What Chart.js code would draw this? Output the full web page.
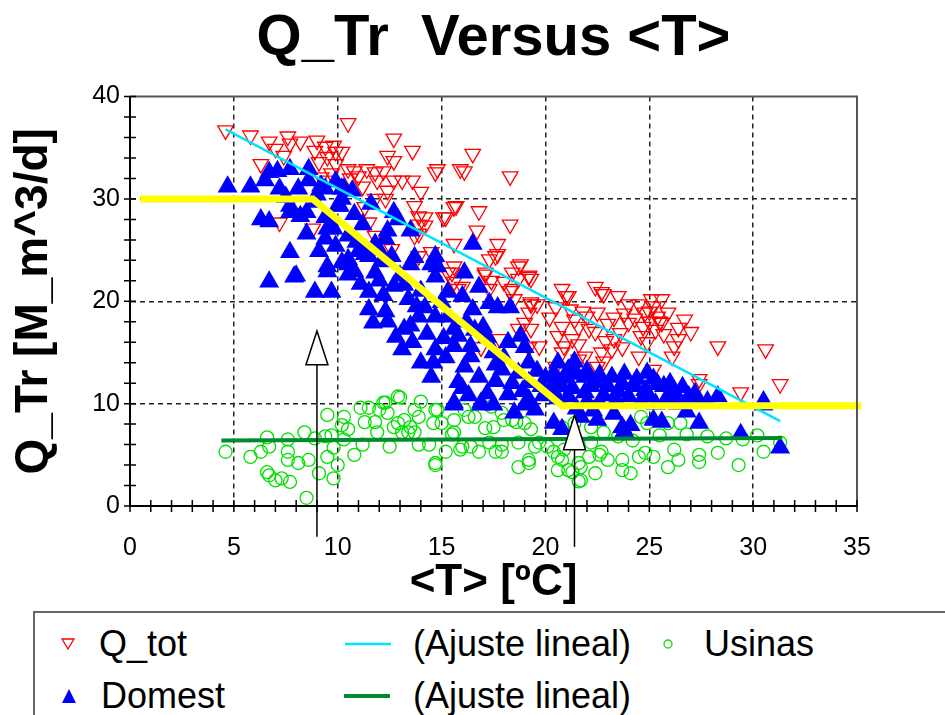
<!DOCTYPE html>
<html>
<head>
<meta charset="utf-8">
<script src="https://cdn.jsdelivr.net/npm/chart.js@4.4.1/dist/chart.umd.min.js"></script>
<style>
  body { margin: 0; background: #fff; font-family: Arial, "Liberation Sans", sans-serif; }
  #wrap { position: relative; width: 945px; height: 715px; overflow: hidden; }
  #chart { position: absolute; left: 0; top: 0; }
  #legend { position: absolute; left: 33px; top: 611px; width: 960px; height: 130px;
            border: 2px solid #666; background: #fff; box-sizing: border-box; }
  .lg { position: absolute; font-size: 36px; line-height: 40px; height: 40px; color: #000; white-space: nowrap; }
  .mk { position: absolute; }
</style>
</head>
<body>
<div id="wrap">
  <canvas id="chart" width="945" height="620"></canvas>
  <div id="legend"></div>
</div>
<script>
// Q_tot (triángulos rojos)
const qTot = [
  [4.6,36.7],[5.8,36.2],[6.7,35.6],[7.0,34.9],[7.6,36.1],[7.7,35.4],[8.2,35.6],[9.0,35.7],[8.9,34.7],[9.4,35.1],
  [9.8,35.2],[9.9,34.6],[10.2,34.6],[10.5,37.4],[9.5,34.1],[9.1,33.6],[9.9,33.4],[9.7,32.5],[9.2,32.1],[9.5,31.8],
  [7.4,34.2],[6.3,33.4],[10.5,32.9],[10.8,32.7],[11.4,32.9],[11.8,32.6],[12.2,32.7],[12.4,34.2],[12.7,33.7],[12.7,35.9],
  [13.6,34.7],[10.6,32.0],[11.0,32.2],[11.2,31.2],[11.9,31.8],[12.4,30.8],[12.7,31.8],[13.1,31.8],[13.6,31.8],[14.0,30.7],
  [14.7,32.6],[14.8,32.9],[15.9,32.9],[11.3,29.2],[11.8,30.0],[12.3,30.0],[13.7,29.3],[14.2,28.2],[15.1,28.2],[15.6,29.2],
  [11.5,27.7],[11.8,26.4],[13.9,27.5],[13.9,26.6],[8.8,27.1],[9.6,27.8],[12.6,25.1],[13.9,24.4],[14.5,24.8],[15.6,23.4],
  [7.2,27.7],[16.5,34.4],[16.1,32.7],[18.3,32.2],[15.7,29.3],[16.8,28.8],[15.2,28.2],[16.7,26.9],[18.3,27.5],[17.7,25.6],
  [15.6,25.6],[17.6,24.4],[18.8,23.6],[19.2,22.4],[15.5,22.8],[15.8,21.2],[17.1,22.6],[17.4,22.0],[18.0,21.9],[18.4,21.2],
  [19.3,19.9],[20.8,21.2],[21.1,20.5],[22.4,21.4],[22.7,20.9],[13.9,28.3],[14.2,27.4],[13.7,26.4],[18.7,23.4],[19.2,22.5],
  [15.6,21.9],[16.0,21.4],[17.3,21.2],[18.3,21.0],[18.5,20.2],[19.3,19.7],[20.5,19.4],[21.0,20.5],[22.8,20.7],[23.5,20.5],
  [24.0,19.7],[24.5,19.7],[25.1,20.2],[25.6,20.2],[25.2,19.5],[25.4,18.5],[25.0,18.0],[25.6,17.9],[25.9,18.9],[26.4,17.4],
  [26.7,18.2],[27.0,17.0],[26.4,16.3],[26.2,15.6],[26.1,14.6],[28.3,15.6],[30.6,15.3],[31.3,11.9],[29.4,11.1],[27.4,12.4],
  [27.4,11.9],[25.2,13.3],[24.5,14.6],[22.5,18.9],[23.3,18.4],[24.0,17.9],[24.6,16.6],[23.3,16.3],[23.7,15.5],[23.2,15.3],
  [22.7,15.0],[21.9,14.6],[22.5,13.6],[22.8,14.1],[21.4,18.2],[21.6,17.5],[22.1,17.3],[22.4,17.0],[20.8,17.5],[20.6,16.6],
  [21.3,16.3],[21.6,15.8],[20.9,15.6],[20.8,15.0],[21.6,14.3],[20.5,13.6],[21.4,13.6],[19.0,17.9],[19.3,17.3],[19.7,15.6],
  [19.2,15.5],[18.7,17.3],[17.8,16.3],[16.9,15.5],[19.2,18.9],[19.6,19.7],[17.3,24.1],[17.7,24.6],[17.1,22.8],[18.4,22.8],
  [18.7,22.2],[19.3,22.2],[15.3,22.8],[21.8,19.0],[22.0,18.5],[23.0,17.8],[23.8,18.8],[24.3,18.3],[24.8,18.9],[25.3,17.2],
  [25.7,16.8],[24.9,16.0],[23.6,16.9],[22.9,16.1],[21.2,19.2],[20.2,18.4],[25.0,19.0],[25.5,18.0],[24.7,17.5]
];

// Domest (triángulos azules)
const domest = [
  [4.7,31.2],[5.8,31.2],[6.5,31.8],[6.7,32.6],[7.1,32.7],[7.7,32.9],[8.6,32.9],[7.2,31.0],[7.7,29.3],[8.1,31.0],
  [8.9,29.7],[9.4,31.0],[9.9,31.7],[6.3,28.0],[6.7,27.8],[7.7,28.7],[8.5,28.7],[9.4,28.2],[9.5,27.1],[8.5,26.6],
  [7.7,24.8],[6.7,21.9],[7.9,22.4],[8.9,20.9],[9.7,20.9],[9.5,22.9],[10.2,23.8],[10.5,24.1],[9.9,25.4],[10.5,26.4],
  [10.2,31.0],[10.1,29.3],[8.0,22.5],[10.5,23.6],[10.5,22.6],[9.1,24.9],[11.1,21.7],[11.5,20.9],[11.8,22.8],[11.3,24.6],
  [12.1,23.9],[11.5,19.2],[11.7,17.9],[12.3,19.0],[12.4,18.0],[12.7,21.5],[13.4,20.2],[13.2,17.3],[13.5,17.6],[13.1,15.3],
  [14.0,14.0],[14.5,12.6],[14.7,15.3],[14.7,18.5],[13.9,18.5],[15.0,19.9],[15.6,15.6],[15.8,12.1],[15.6,10.1],[13.5,23.6],
  [14.5,23.6],[14.7,22.4],[15.6,17.3],[15.3,20.9],[9.4,26.1],[9.8,27.1],[9.5,23.4],[11.0,24.9],[11.5,24.4],[12.3,26.1],
  [12.4,26.9],[12.7,28.7],[12.9,28.0],[13.5,26.9],[13.7,24.3],[14.7,24.4],[14.8,23.4],[9.2,31.3],[10.3,31.0],[10.7,30.8],
  [10.2,30.0],[10.0,29.3],[16.5,25.6],[16.1,22.8],[16.8,21.4],[17.7,19.4],[18.3,19.4],[18.8,16.6],[18.2,16.0],[16.5,19.2],
  [15.8,16.6],[16.4,15.6],[16.8,12.6],[16.1,13.6],[17.9,13.3],[18.7,13.0],[19.2,14.0],[19.2,12.1],[19.8,11.7],[16.9,10.1],
  [18.5,9.1],[20.6,14.0],[21.4,14.1],[21.1,13.3],[20.4,13.0],[21.9,12.6],[22.5,12.1],[23.0,11.7],[23.7,11.9],[24.3,11.7],
  [25.2,12.4],[25.7,11.7],[26.2,11.2],[26.9,10.7],[28.3,10.7],[30.5,10.2],[20.8,11.7],[21.9,11.1],[24.0,10.7],[25.0,10.7],
  [15.6,9.9],[16.9,9.9],[19.5,9.4],[20.4,8.1],[21.7,8.7],[22.5,8.4],[23.7,7.7],[24.1,7.9],[25.2,8.4],[25.6,8.2],
  [27.4,8.1],[29.4,7.0],[31.3,5.7],[30.5,9.9],[21.1,10.7],[20.2,11.2],[18.2,10.9],[19.2,10.4],[20.8,7.5],[23.8,7.3],
  [13.0,22.5],[14.0,21.0],[13.8,19.5],[12.8,16.5],[14.3,16.8],[15.2,14.5],[16.2,18.0],[17.0,17.5],[17.5,15.0],[18.0,14.5],
  [16.0,11.5],[17.2,11.0],[22.0,10.2],[22.8,10.8],[23.4,10.3],[24.6,10.2],[25.8,10.4],[26.4,10.0],[27.8,10.2],[21.5,9.5],
  [22.3,9.3],[23.3,9.0],[26.8,9.2],[20.0,12.5],[19.0,15.5],[17.3,19.8],[12.0,25.0],[11.2,27.5],[10.8,28.5],[11.6,29.5],
  [20.5,12.0],[21.0,12.5],[21.5,12.9],[22.0,13.2],[22.6,12.8],[23.2,12.6],[23.8,12.9],[24.4,12.4],[24.9,13.0],[25.4,11.9],
  [26.0,12.0],[26.6,11.6],[27.2,11.0],[21.3,11.5],[22.2,11.7],[23.5,11.2],[24.8,11.3],[26.1,10.8],[27.3,10.4],[20.6,10.5],
  [22.6,10.1],[25.3,10.0],[15.3,18.5],[16.0,20.5],[16.6,17.2],[17.2,16.5],[17.6,13.8],[18.4,12.0],[19.6,13.2],[19.9,10.8],
  [17.6,12.2],[16.4,14.6],[15.1,16.4],[18.9,11.2],[17.5,9.9],[16.3,10.8],[19.0,9.9],[10.9,25.8],[11.8,25.6],[12.6,24.4],
  [13.2,21.6],[12.2,20.6],[14.2,19.4],[13.6,16.0],[14.6,14.0],[12.0,22.0],[10.8,22.9],[8.2,28.3],[9.0,30.4],[8.6,31.8],
  [7.5,30.2]
];

// Usinas (círculos verdes)
const usinas = [
  [4.6,5.3],[5.8,4.8],[6.3,5.3],[6.7,5.8],[6.6,6.7],[7.6,6.5],[7.6,5.3],[7.6,4.5],[8.1,4.2],[8.6,4.5],
  [8.4,7.2],[6.6,3.3],[6.7,3.0],[7.0,2.5],[7.3,2.7],[7.7,2.35],[8.5,0.8],[9.1,3.2],[9.4,6.8],[9.5,8.9],
  [9.5,4.8],[9.8,5.7],[9.8,2.7],[10.0,4.0],[10.2,7.9],[10.3,8.7],[10.5,7.5],[10.8,5.0],[10.3,6.5],[11.1,9.6],
  [11.3,8.2],[11.8,8.2],[11.9,7.2],[11.2,6.0],[12.0,9.4],[12.2,10.1],[12.4,9.1],[13.0,10.6],[12.9,8.1],[13.1,7.2],
  [12.5,5.8],[13.5,7.7],[13.7,9.4],[14.0,10.2],[13.7,7.2],[13.9,6.0],[14.6,8.1],[14.8,9.4],[14.4,6.0],[14.7,4.0],
  [15.2,5.3],[15.6,7.2],[15.9,5.5],[16.3,8.7],[16.4,5.8],[16.8,5.3],[17.1,7.6],[17.5,7.7],[17.6,5.3],[11.5,9.6],
  [12.3,10.1],[12.9,10.7],[14.7,9.4],[16.1,9.4],[17.4,9.7],[17.9,9.1],[18.4,8.4],[19.0,8.1],[15.5,7.0],[16.0,5.8],
  [17.9,5.3],[18.7,6.2],[19.5,5.8],[20.1,5.8],[19.2,4.5],[18.7,3.8],[14.7,4.2],[20.4,5.3],[20.8,4.5],[21.1,3.5],
  [21.6,4.2],[22.1,4.8],[22.4,3.2],[22.7,5.3],[20.8,7.7],[21.4,8.1],[22.2,7.7],[22.8,7.2],[22.2,6.2],[12.7,7.7],
  [13.4,7.2],[13.2,8.4],[13.9,8.7],[15.0,8.1],[15.6,8.4],[16.6,8.7],[18.0,8.4],[18.6,8.2],[19.3,7.5],[17.3,6.2],
  [17.9,6.0],[19.7,6.2],[20.6,4.8],[20.9,5.5],[21.7,3.8],[21.7,2.5],[22.6,5.0],[23.0,4.5],[23.7,4.5],[23.7,3.5],
  [24.1,3.2],[24.5,4.8],[24.8,5.2],[25.2,4.8],[24.6,8.7],[24.9,8.1],[25.9,8.1],[26.5,8.1],[26.2,5.5],[26.4,4.5],
  [25.9,3.8],[27.4,5.0],[27.4,4.3],[28.3,5.2],[29.3,4.0],[30.5,5.3],[31.3,6.2],[19.2,4.2],[20.6,3.5],[21.3,3.3],
  [21.6,2.4],[23.5,6.8],[24.2,6.4],[25.5,6.9],[26.8,7.0],[27.8,6.8],[28.7,6.6],[29.5,6.5],[30.2,6.9],[8.9,6.6],[9.7,6.9]
];

// ajustes y modelo
const fitTot = [[4.6,36.8],[31.3,8.3]];
const fitUsinas = [[4.4,6.4],[31.4,6.65]];
const modelo = [[0.5,30.0],[8.8,30.0],[20.8,9.8],[35.2,9.8]];

// flechas: x, punta, base de la cabeza, pie
const arrowX = [9.0, 21.4];
const arrowTip = [17.1, 8.9];
const arrowBase = [13.8, 5.5];
const arrowFoot = [-3.0, -4.0];

const xTicks = [0, 5, 10, 15, 20, 25, 30, 35];
const yTicks = [0, 10, 20, 30, 40];

const FONT = 'Arial, "Liberation Sans", sans-serif';
const toXY = arr => arr.map(p => ({ x: p[0], y: p[1] }));

// marcas secundarias, marco y flechas
const extras = {
  id: 'extras',
  afterDatasetsDraw(chart) {
    const { ctx, scales: { x, y } } = chart;
    ctx.save();
    ctx.lineWidth = 1.5;
    ctx.strokeStyle = '#000';
    for (let i = 0; i < arrowX.length; i++) {
      const px = x.getPixelForValue(arrowX[i]);
      const tip = y.getPixelForValue(arrowTip[i]);
      const base = y.getPixelForValue(arrowBase[i]);
      const foot = y.getPixelForValue(arrowFoot[i]);
      ctx.beginPath();
      ctx.moveTo(px, foot);
      ctx.lineTo(px, base);
      ctx.stroke();
      ctx.beginPath();
      ctx.moveTo(px, tip);
      ctx.lineTo(px - 11, base);
      ctx.lineTo(px + 11, base);
      ctx.closePath();
      ctx.fillStyle = '#fff';
      ctx.fill();
      ctx.stroke();
    }
    ctx.restore();
  },
  afterDraw(chart) {
    const { ctx, chartArea: a, scales: { x, y } } = chart;
    ctx.save();
    ctx.strokeStyle = '#555';
    ctx.lineWidth = 2;
    ctx.beginPath();
    ctx.moveTo(a.left, a.top);
    ctx.lineTo(a.right, a.top);
    ctx.lineTo(a.right, a.bottom);
    ctx.stroke();
    ctx.strokeStyle = '#000';
    ctx.lineWidth = 1.5;
    ctx.beginPath();
    for (let v = 0; v <= 35; v += 1) {
      const px = x.getPixelForValue(v);
      ctx.moveTo(px, a.bottom - 6);
      ctx.lineTo(px, a.bottom + 6);
    }
    for (let v = 0; v <= 40; v += 2) {
      const py = y.getPixelForValue(v);
      ctx.moveTo(a.left - 6, py);
      ctx.lineTo(a.left + 6, py);
    }
    ctx.stroke();
    ctx.restore();
  }
};

const gridColor = (lo, hi) => c => (c.tick && (c.tick.value === lo || c.tick.value === hi)) ? 'rgba(0,0,0,0)' : '#222';

new Chart(document.getElementById('chart'), {
  type: 'scatter',
  data: {
    datasets: [
      { label: 'modelo', data: toXY(modelo), showLine: true, borderColor: '#ffff00', borderWidth: 7,
        pointRadius: 0, order: 0, clip: false },
      { label: '(Ajuste lineal)', data: toXY(fitUsinas), showLine: true, borderColor: '#008a2e', borderWidth: 4,
        pointRadius: 0, order: 1 },
      { label: '(Ajuste lineal)', data: toXY(fitTot), showLine: true, borderColor: '#00e5ff', borderWidth: 2.5,
        pointRadius: 0, order: 2 },
      { label: 'Domest', data: toXY(domest), pointStyle: 'triangle', pointRadius: 11.5,
        backgroundColor: '#0000ff', borderColor: '#0000ff', borderWidth: 0, order: 3 },
      { label: 'Usinas', data: toXY(usinas), pointStyle: 'circle', pointRadius: 6.5,
        backgroundColor: 'rgba(0,0,0,0)', borderColor: '#00e000', borderWidth: 1.3, order: 4 },
      { label: 'Q_tot', data: toXY(qTot), pointStyle: 'triangle', pointRotation: 180, pointRadius: 9,
        backgroundColor: 'rgba(0,0,0,0)', borderColor: '#ff0000', borderWidth: 1.3, order: 5 }
    ]
  },
  options: {
    responsive: false,
    devicePixelRatio: 1,
    animation: false,
    layout: { padding: { left: 0, right: 88, top: 0, bottom: 0 } },
    plugins: {
      legend: { display: false },
      tooltip: { enabled: false },
      title: {
        display: true, fullSize: false, text: 'Q_Tr  Versus <T>', color: '#000',
        font: { family: FONT, size: 58, weight: 'bold', lineHeight: 1.2 },
        padding: { top: 4, bottom: 23 }
      }
    },
    scales: {
      x: {
        type: 'linear', min: 0, max: 35,
        afterBuildTicks: s => { s.ticks = xTicks.map(v => ({ value: v })); },
        afterFit: s => { s.height = 114; },
        ticks: { color: '#000', font: { family: FONT, size: 25 }, padding: 27 },
        grid: { color: gridColor(0, 35), lineWidth: 1.5, drawTicks: false },
        border: { display: true, color: '#000', width: 2, dash: [5, 4] },
        title: { display: true, text: '<T> [ºC]', color: '#000',
                 font: { family: FONT, size: 44, weight: 'bold', lineHeight: 1.2 },
                 padding: { top: 0, bottom: 10.6 } }
      },
      y: {
        type: 'linear', min: 0, max: 40,
        afterBuildTicks: s => { s.ticks = yTicks.map(v => ({ value: v })); },
        afterFit: s => { s.width = 130; },
        ticks: { color: '#000', font: { family: FONT, size: 25 }, padding: 10 },
        grid: { color: gridColor(0, 40), lineWidth: 1.5, drawTicks: false },
        border: { display: true, color: '#000', width: 2, dash: [5, 4] },
        title: { display: true, text: 'Q_Tr [M_m^3/d]', color: '#000',
                 font: { family: FONT, size: 46, weight: 'bold', lineHeight: 1.2 },
                 padding: { top: 7, bottom: 0 } }
      }
    }
  },
  plugins: [extras]
});

// leyenda en HTML
const legendItems = [
  { text: 'Q_tot', tx: 64, cy: 31, mark: 'down', mx: 33 },
  { text: '(Ajuste lineal)', tx: 378, cy: 31, mark: 'line', mx: 310, color: '#00e5ff', w: 2.5 },
  { text: 'Usinas', tx: 669, cy: 31, mark: 'circle', mx: 633 },
  { text: 'Domest', tx: 66, cy: 83, mark: 'up', mx: 34 },
  { text: '(Ajuste lineal)', tx: 378, cy: 83, mark: 'line', mx: 309, color: '#008a2e', w: 4 }
];
const legend = document.getElementById('legend');
legendItems.forEach(it => {
  const t = document.createElement('div');
  t.className = 'lg';
  t.textContent = it.text;
  t.style.left = it.tx + 'px';
  t.style.top = (it.cy - 20) + 'px';
  legend.appendChild(t);
  const svgNS = 'http://www.w3.org/2000/svg';
  const svg = document.createElementNS(svgNS, 'svg');
  svg.setAttribute('class', 'mk');
  let shape;
  if (it.mark === 'line') {
    svg.setAttribute('width', 48); svg.setAttribute('height', 10);
    svg.style.left = it.mx + 'px'; svg.style.top = (it.cy - 5) + 'px';
    shape = document.createElementNS(svgNS, 'line');
    shape.setAttribute('x1', 0); shape.setAttribute('x2', 46);
    shape.setAttribute('y1', 5); shape.setAttribute('y2', 5);
    shape.setAttribute('stroke', it.color); shape.setAttribute('stroke-width', it.w);
  } else {
    svg.setAttribute('width', 20); svg.setAttribute('height', 20);
    svg.style.left = (it.mx - 10) + 'px'; svg.style.top = (it.cy - 10) + 'px';
    if (it.mark === 'circle') {
      shape = document.createElementNS(svgNS, 'circle');
      shape.setAttribute('cx', 10); shape.setAttribute('cy', 10); shape.setAttribute('r', 4);
      shape.setAttribute('fill', 'none'); shape.setAttribute('stroke', '#00e000'); shape.setAttribute('stroke-width', 1.3);
    } else if (it.mark === 'down') {
      shape = document.createElementNS(svgNS, 'polygon');
      shape.setAttribute('points', '4,5 16,5 10,15');
      shape.setAttribute('fill', 'none'); shape.setAttribute('stroke', '#ff0000'); shape.setAttribute('stroke-width', 1.3);
    } else {
      shape = document.createElementNS(svgNS, 'polygon');
      shape.setAttribute('points', '3,17 17,17 10,3');
      shape.setAttribute('fill', '#0000ff');
    }
  }
  svg.appendChild(shape);
  legend.appendChild(svg);
});
</script>
</body>
</html>
